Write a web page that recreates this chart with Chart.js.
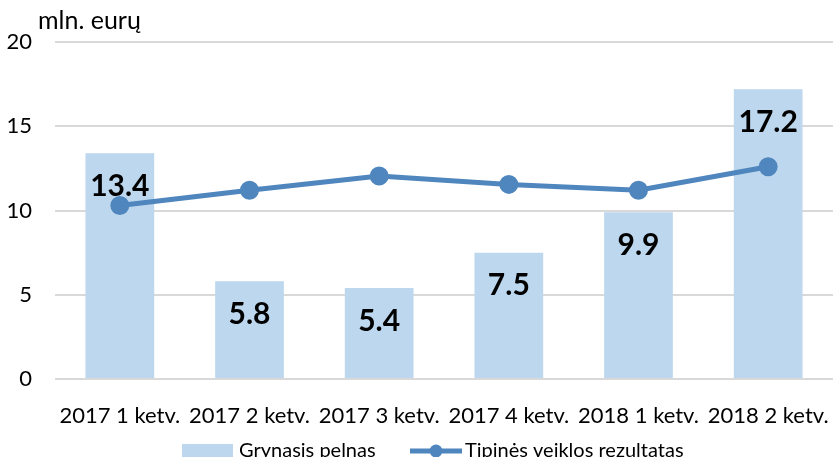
<!DOCTYPE html>
<html>
<head>
<meta charset="utf-8">
<script src="https://cdn.jsdelivr.net/npm/chart.js@4.4.0/dist/chart.umd.min.js"></script>
<style>
  html, body { margin: 0; padding: 0; background: #fff; }
  #wrap { width: 833px; height: 457px; position: relative; }
</style>
</head>
<body>
<div id="wrap"><canvas id="grafico"></canvas></div>
<script>
// dados do gráfico
const ketvirciai = ['2017 1 ketv.', '2017 2 ketv.', '2017 3 ketv.', '2017 4 ketv.', '2018 1 ketv.', '2018 2 ketv.'];
const grynasisPelnas = [13.4, 5.8, 5.4, 7.5, 9.9, 17.2];
const tipinesVeiklos = [10.3, 11.2, 12.05, 11.55, 11.2, 12.6];
const yTicks = [0, 5, 10, 15, 20];

const fonte = "Lato, 'Open Sans', sans-serif";
const corBarra = '#BDD7EE';
const corLinha = '#4F86BE';

const pluginRotulos = {
  id: 'rotulos',
  afterDatasetsDraw(chart) {
    const ctx = chart.ctx;
    const meta = chart.getDatasetMeta(0);
    ctx.save();
    ctx.font = "bold 30px " + fonte;
    ctx.fillStyle = '#000';
    ctx.textAlign = 'center';
    ctx.textBaseline = 'middle';
    meta.data.forEach(function (bar, i) {
      ctx.fillText(grynasisPelnas[i].toFixed(1), bar.x, bar.y + 33);
    });
    ctx.restore();
  },
  afterDraw(chart) {
    const ctx = chart.ctx;
    ctx.save();
    // titulo do eixo
    ctx.font = "25px " + fonte;
    ctx.fillStyle = '#000';
    ctx.textBaseline = 'middle';
    ctx.textAlign = 'left';
    ctx.fillText('mln. eurų', 38, 21);
    // legenda (cortada embaixo, como no original)
    const y = 451;
    ctx.fillStyle = corBarra;
    ctx.fillRect(182, 444, 51, 16);
    ctx.fillStyle = '#000';
    ctx.font = "20px " + fonte;
    ctx.fillText(chart.data.datasets[0].label, 239, y);
    ctx.strokeStyle = corLinha;
    ctx.lineWidth = 5;
    ctx.beginPath();
    ctx.moveTo(410, y);
    ctx.lineTo(462, y);
    ctx.stroke();
    ctx.fillStyle = corLinha;
    ctx.beginPath();
    ctx.arc(436, y, 6.5, 0, Math.PI * 2);
    ctx.fill();
    ctx.fillStyle = '#000';
    ctx.fillText(chart.data.datasets[1].label, 465, y);
    ctx.restore();
  }
};

const dadosGrafico = {
  labels: ketvirciai,
  datasets: [
    {
      type: 'bar',
      label: 'Grynasis pelnas',
      data: grynasisPelnas,
      backgroundColor: corBarra,
      barPercentage: 0.53,
      categoryPercentage: 1,
      order: 1
    },
    {
      type: 'line',
      label: 'Tipinės veiklos rezultatas',
      data: tipinesVeiklos,
      borderColor: corLinha,
      backgroundColor: corLinha,
      borderWidth: 5,
      pointRadius: 7,
      pointHoverRadius: 7,
      tension: 0,
      order: 0
    }
  ]
};

const config = {
  data: dadosGrafico,
  options: {
    responsive: true,
    maintainAspectRatio: false,
    animation: false,
    layout: { autoPadding: false, padding: { top: 42, right: 0, left: 0, bottom: 0 } },
    plugins: {
      legend: { display: false },
      tooltip: { enabled: false }
    },
    scales: {
      x: {
        grid: { display: false },
        border: { display: false },
        ticks: {
          color: '#000',
          font: { family: fonte, size: 22 },
          maxRotation: 0,
          autoSkip: false,
          padding: 16
        },
        afterFit(scale) {
          scale.height = 78;
          scale.paddingLeft = 0;
          scale.paddingRight = 0;
        }
      },
      y: {
        min: 0,
        max: 20,
        afterBuildTicks(scale) { scale.ticks = yTicks.map(v => ({ value: v })); },
        grid: { color: '#D9D9D9', lineWidth: 2, drawTicks: false },
        border: { display: false },
        ticks: {
          color: '#000',
          font: { family: fonte, size: 22 },
          padding: 23
        },
        afterFit(scale) {
          scale.width = 55;
          scale.paddingTop = 0;
          scale.paddingBottom = 0;
        }
      }
    }
  },
  plugins: [pluginRotulos]
};

new Chart(document.getElementById('grafico'), config);
</script>
</body>
</html>
